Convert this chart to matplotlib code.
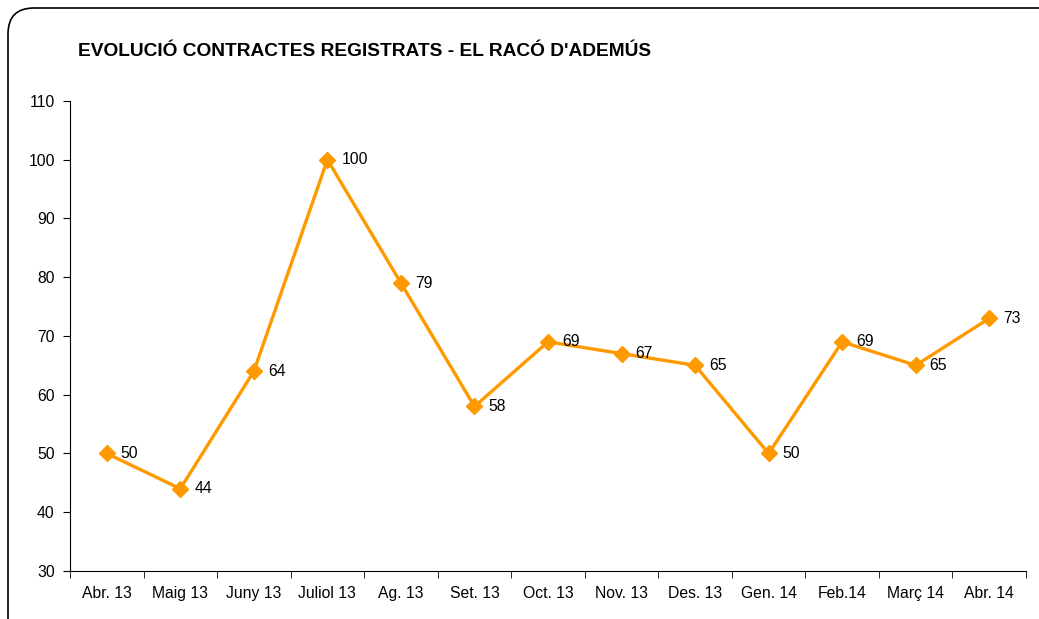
import matplotlib.pyplot as plt
from matplotlib.patches import FancyBboxPatch

plt.rcParams['font.family'] = ['Liberation Sans', 'DejaVu Sans']

# Data
months = ["Abr. 13", "Maig 13", "Juny 13", "Juliol 13", "Ag. 13", "Set. 13", "Oct. 13",
          "Nov. 13", "Des. 13", "Gen. 14", "Feb.14", "Març 14", "Abr. 14"]
contracts = [50, 44, 64, 100, 79, 58, 69, 67, 65, 50, 69, 65, 73]

orange = "#FF9900"
fs = 11.3

fig = plt.figure(figsize=(10.39, 6.19), dpi=100)
ax = fig.add_axes([0.0674, 0.0775, 0.9201, 0.7595])

# Rounded frame around the whole chart
frame = FancyBboxPatch((8 / 1039, -0.05), 1.05, 1 - 8 / 619 + 0.05,
                       boxstyle="round,pad=0,rounding_size=0.025",
                       transform=fig.transFigure, fc="none", ec="black", lw=1.2,
                       mutation_aspect=1039 / 619)
fig.patches.append(frame)

x = list(range(len(months)))
ax.plot(x, contracts, color=orange, lw=2.4, marker="D", markersize=8.5,
        markerfacecolor=orange, markeredgecolor=orange)

# Value labels
for xi, v in zip(x, contracts):
    ax.annotate(str(v), (xi, v), xytext=(10, 0), textcoords="offset points",
                ha="left", va="center", fontsize=fs)

ax.set_xlim(-0.5, len(months) - 0.5)
ax.set_ylim(30, 110)
ax.set_yticks(range(30, 111, 10))
ax.set_xticks(x)
ax.set_xticklabels(months, fontsize=fs)
ax.set_xticks([i - 0.5 for i in range(len(months) + 1)], minor=True)
ax.tick_params(axis="x", which="major", length=0, pad=11)
ax.tick_params(axis="x", which="minor", length=5, direction="out")
ax.tick_params(axis="y", length=5, direction="out", labelsize=fs, pad=6)

ax.spines["top"].set_visible(False)
ax.spines["right"].set_visible(False)

fig.text(78 / 1039, 1 - 52 / 619, "EVOLUCIÓ CONTRACTES REGISTRATS - EL RACÓ D'ADEMÚS",
         fontsize=13.8, fontweight="bold", ha="left", va="center")

fig.savefig("out.png", dpi=100)
